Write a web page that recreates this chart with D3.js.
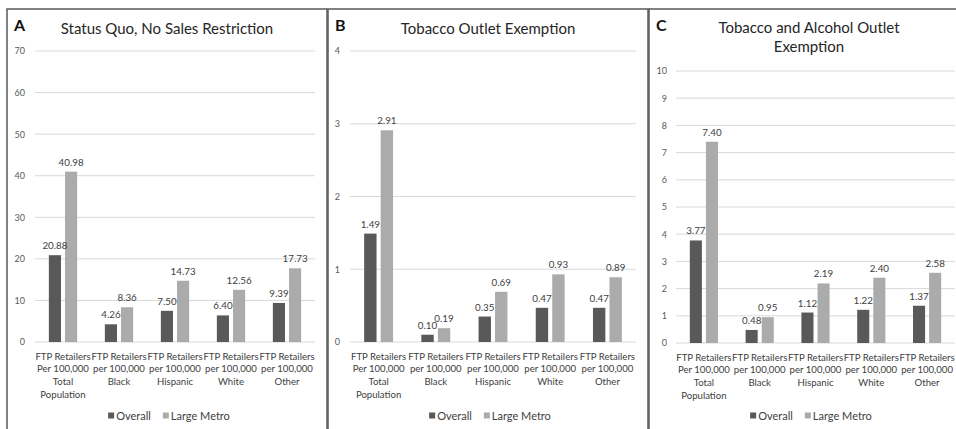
<!DOCTYPE html>
<html>
<head>
<meta charset="utf-8">
<script src="https://cdn.jsdelivr.net/npm/d3@7"></script>
<style>
  html, body { margin: 0; padding: 0; background: #fff; }
  svg { display: block; font-family: Lato, "Open Sans", sans-serif; }
</style>
</head>
<body>
<svg id="chart" width="956" height="429"></svg>
<script>
// ---------- data ----------
const categories = [
  ["FTP Retailers", "Per 100,000", "Total", "Population"],
  ["FTP Retailers", "per 100,000", "Black"],
  ["FTP Retailers", "per 100,000", "Hispanic"],
  ["FTP Retailers", "per 100,000", "White"],
  ["FTP Retailers", "per 100,000", "Other"]
];
const seriesNames = ["Overall", "Large Metro"];

const overallA = [20.88, 4.26, 7.50, 6.40, 9.39];
const metroA   = [40.98, 8.36, 14.73, 12.56, 17.73];
const ticksA   = [0, 10, 20, 30, 40, 50, 60, 70];

const overallB = [1.49, 0.10, 0.35, 0.47, 0.47];
const metroB   = [2.91, 0.19, 0.69, 0.93, 0.89];
const ticksB   = [0, 1, 2, 3, 4];

const overallC = [3.77, 0.48, 1.12, 1.22, 1.37];
const metroC   = [7.40, 0.95, 2.19, 2.40, 2.58];
const ticksC   = [0, 1, 2, 3, 4, 5, 6, 7, 8, 9, 10];

const titleA = ["Status Quo, No Sales Restriction"];
const titleB = ["Tobacco Outlet Exemption"];
const titleC = ["Tobacco and Alcohol Outlet", "Exemption"];

// ---------- layout ----------
const colors = { Overall: "#595959", "Large Metro": "#ababab" };

const panels = [
  { letter: "A", title: titleA, overall: overallA, metro: metroA, ticks: ticksA,
    bx: 7,   x0: 35,  x1: 315, yTop: 51, yBot: 342, tickRight: 25 },
  { letter: "B", title: titleB, overall: overallB, metro: metroB, ticks: ticksB,
    bx: 328, x0: 350, x1: 636, yTop: 51, yBot: 342, tickRight: 340 },
  { letter: "C", title: titleC, overall: overallC, metro: metroC, ticks: ticksC,
    bx: 649, x0: 676, x1: 955, yTop: 71, yBot: 343, tickRight: 667 }
];

const svg = d3.select("#chart");
const fmt = d3.format(".2f");

panels.forEach(p => {
  const g = svg.append("g");
  const panelW = 320;
  const cx = p.bx + panelW / 2;

  // border
  g.append("rect")
    .attr("x", p.bx).attr("y", 9)
    .attr("width", panelW).attr("height", 440)
    .attr("fill", "none").attr("stroke", "#5a5a5a").attr("stroke-width", 1.5);

  // letter
  g.append("text")
    .attr("x", p.bx + 7).attr("y", 31)
    .attr("font-size", 16).attr("font-weight", 700).attr("fill", "#111")
    .text(p.letter);

  // title
  p.title.forEach((t, i) => {
    g.append("text")
      .attr("x", cx).attr("y", 34 + i * 19 - (p.title.length > 1 ? 1 : 0))
      .attr("text-anchor", "middle")
      .attr("font-size", 15).attr("fill", "#262626")
      .text(t);
  });

  const yMax = p.ticks[p.ticks.length - 1];
  const y = d3.scaleLinear().domain([0, yMax]).range([p.yBot, p.yTop]);
  const x = d3.scaleBand().domain(d3.range(categories.length))
    .range([p.x0, p.x1]).paddingInner(0.495).paddingOuter(0.2475);
  const xi = d3.scaleBand().domain(seriesNames)
    .range([0, x.bandwidth()]).paddingInner(0.25);

  // gridlines
  g.append("g").selectAll("line").data(p.ticks).join("line")
    .attr("x1", p.x0).attr("x2", p.x1)
    .attr("y1", d => y(d)).attr("y2", d => y(d))
    .attr("stroke", "#d9d9d9").attr("stroke-width", 1);

  // y-axis tick labels
  const ax = g.append("g")
    .attr("transform", `translate(${p.tickRight + 4},0)`)
    .call(d3.axisLeft(y).tickValues(p.ticks).tickSize(0).tickPadding(4).tickFormat(d3.format("d")));
  ax.select(".domain").remove();
  ax.selectAll("text").attr("font-size", 9).attr("fill", "#595959")
    .attr("font-family", "Lato, 'Open Sans', sans-serif");

  // bars
  const rows = categories.map((c, i) => ({ i, vals: [
    { s: "Overall", v: p.overall[i] },
    { s: "Large Metro", v: p.metro[i] }
  ]}));
  const grp = g.append("g").selectAll("g").data(rows).join("g")
    .attr("transform", d => `translate(${x(d.i)},0)`);
  grp.selectAll("rect").data(d => d.vals).join("rect")
    .attr("x", d => xi(d.s)).attr("width", xi.bandwidth())
    .attr("y", d => y(d.v)).attr("height", d => y(0) - y(d.v))
    .attr("fill", d => colors[d.s]);
  grp.selectAll("text.val").data(d => d.vals).join("text")
    .attr("class", "val")
    .attr("x", d => xi(d.s) + xi.bandwidth() / 2)
    .attr("y", d => y(d.v) - 6)
    .attr("text-anchor", "middle")
    .attr("font-size", 9.8).attr("fill", "#404040")
    .text(d => fmt(d.v));

  // category labels
  const cat = g.append("g").selectAll("text").data(rows).join("text")
    .attr("text-anchor", "middle")
    .attr("font-size", 9.6).attr("fill", "#404040");
  cat.each(function(d) {
    const t = d3.select(this);
    categories[d.i].forEach((line, k) => {
      t.append("tspan")
        .attr("x", x(d.i) + x.bandwidth() / 2)
        .attr("y", p.yBot + 17.5 + k * 12.7)
        .text(line);
    });
  });

  // legend
  const leg = g.append("g");
  const items = leg.selectAll("g").data(seriesNames).join("g");
  let off = 0;
  items.each(function(s) {
    const it = d3.select(this);
    it.append("rect").attr("x", off).attr("y", -3).attr("width", 6).attr("height", 6)
      .attr("fill", colors[s]);
    const tx = it.append("text").attr("x", off + 8).attr("y", 4)
      .attr("font-size", 11).attr("fill", "#404040").text(s);
    off += 8 + tx.node().getComputedTextLength() + 12;
  });
  const legW = off - 12;
  leg.attr("transform", `translate(${cx - legW / 2 + 2},415.5)`);
});
</script>
</body>
</html>
